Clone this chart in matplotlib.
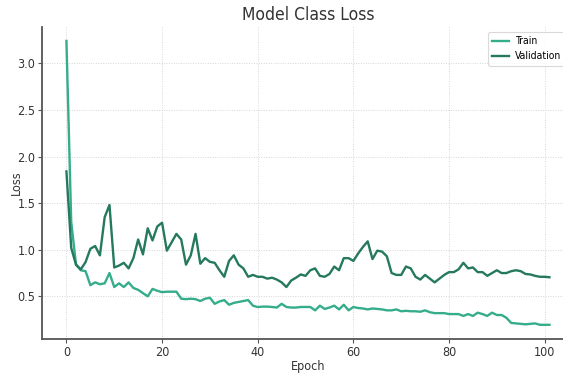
import matplotlib
matplotlib.use("Agg")
import matplotlib.pyplot as plt
from matplotlib import font_manager as fm

epochs = list(range(102))
train_loss = [3.24, 1.30, 0.84, 0.78, 0.77, 0.62, 0.65, 0.63, 0.64, 0.75,
              0.60, 0.64, 0.60, 0.65, 0.59, 0.57, 0.535, 0.50, 0.58, 0.56,
              0.545, 0.55, 0.55, 0.55, 0.475, 0.47, 0.475, 0.47, 0.45, 0.475,
              0.485, 0.42, 0.445, 0.46, 0.41, 0.43, 0.44, 0.45, 0.46, 0.40,
              0.385, 0.39, 0.39, 0.386, 0.38, 0.42, 0.386, 0.38, 0.38, 0.386,
              0.386, 0.386, 0.35, 0.40, 0.365, 0.38, 0.40, 0.36, 0.41, 0.35,
              0.386, 0.375, 0.37, 0.36, 0.37, 0.365, 0.36, 0.35, 0.35, 0.36,
              0.34, 0.345, 0.34, 0.34, 0.335, 0.35, 0.33, 0.32, 0.32, 0.32,
              0.31, 0.31, 0.31, 0.29, 0.31, 0.29, 0.325, 0.31, 0.29, 0.325,
              0.30, 0.30, 0.27, 0.215, 0.21, 0.205, 0.20, 0.205, 0.21, 0.195,
              0.195, 0.195]
val_loss = [1.84, 1.02, 0.84, 0.79, 0.867, 1.01, 1.04, 0.94, 1.35, 1.48,
            0.81, 0.83, 0.86, 0.80, 0.91, 1.11, 0.95, 1.23, 1.10, 1.25,
            1.29, 0.99, 1.08, 1.17, 1.11, 0.84, 0.94, 1.17, 0.85, 0.91,
            0.87, 0.86, 0.78, 0.71, 0.88, 0.94, 0.84, 0.80, 0.71, 0.73,
            0.71, 0.71, 0.69, 0.70, 0.68, 0.65, 0.60, 0.67, 0.70, 0.735,
            0.72, 0.78, 0.80, 0.72, 0.71, 0.74, 0.82, 0.78, 0.91, 0.91,
            0.88, 0.96, 1.03, 1.09, 0.90, 0.99, 0.98, 0.93, 0.75, 0.73,
            0.73, 0.82, 0.80, 0.71, 0.68, 0.73, 0.69, 0.65, 0.69, 0.73,
            0.76, 0.76, 0.79, 0.86, 0.80, 0.81, 0.76, 0.76, 0.72, 0.75,
            0.78, 0.75, 0.75, 0.77, 0.78, 0.77, 0.74, 0.735, 0.72, 0.71,
            0.71, 0.705]
series_labels = ["Train", "Validation"]
title = "Model Class Loss"
xlabel = "Epoch"
ylabel = "Loss"


def pick_condensed():
    prefs = ["DejaVu Sans", "Liberation Sans Narrow", "Roboto", "Noto Sans",
             "Open Sans", "Lato", "Liberation Sans"]
    cands = [f for f in fm.fontManager.ttflist
             if f.stretch in ("condensed", "semi-condensed", "extra-condensed")
             and f.style == "normal" and f.weight in (400, "normal", "regular")]
    for p in prefs:
        for f in cands:
            if f.name == p:
                return f.fname
    for f in fm.fontManager.ttflist:
        if "Narrow" in f.name or "Condensed" in f.name:
            if f.style == "normal" and f.weight in (400, "normal", "regular"):
                return f.fname
    return None


fpath = pick_condensed()
if fpath:
    def fp(size):
        return fm.FontProperties(fname=fpath, size=size)
else:
    def fp(size):
        return fm.FontProperties(family="DejaVu Sans", size=size)

fig = plt.figure(figsize=(5.63, 3.74), dpi=100)
ax = fig.add_axes([0.0751, 0.0936, 0.9437, 0.835])

train_c = "#35ad8b"
val_c = "#25795e"
ax.plot(epochs, train_loss, color=train_c, lw=1.7, label=series_labels[0])
ax.plot(epochs, val_loss, color=val_c, lw=1.7, label=series_labels[1])

ax.grid(True, linestyle=(0, (1, 1.5)), color="#d6d6d6", linewidth=0.7)
for s in ("top", "right"):
    ax.spines[s].set_visible(False)
for s in ("left", "bottom"):
    ax.spines[s].set_color("#555555")
    ax.spines[s].set_linewidth(1.3)
ax.tick_params(length=3, width=0.8, color="#555555", labelcolor="#333333", pad=2)
ax.set_xticks([0, 20, 40, 60, 80, 100])
ax.set_yticks([0.5, 1.0, 1.5, 2.0, 2.5, 3.0])
for lab in ax.get_xticklabels() + ax.get_yticklabels():
    lab.set_fontproperties(fp(9))

ax.set_title(title, fontproperties=fp(12.5), color="#333333", pad=5)
ax.set_xlabel(xlabel, fontproperties=fp(9), color="#333333")
ax.set_ylabel(ylabel, fontproperties=fp(9), color="#333333")
ax.xaxis.set_label_coords(0.5, -0.088)
ax.xaxis.label.set_va("center")
ax.yaxis.set_label_coords(-0.0495, 0.5)
ax.yaxis.label.set_va("center")

leg = ax.legend(loc="upper left", bbox_to_anchor=(488 / 563, 1 - 32 / 374),
                bbox_transform=fig.transFigure, borderaxespad=0,
                prop=fp(7.5), frameon=True, handlelength=1.6,
                handletextpad=0.6, labelspacing=0.5, borderpad=0.4)
leg.get_frame().set_edgecolor("#d0d0d0")
leg.get_frame().set_linewidth(0.8)

fig.savefig("out.png", dpi=100)
